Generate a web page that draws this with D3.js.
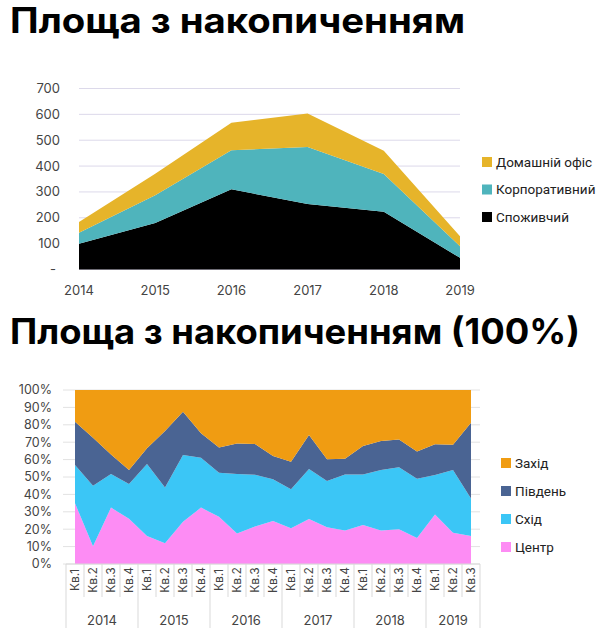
<!DOCTYPE html>
<html>
<head>
<meta charset="utf-8">
<script src="https://cdn.jsdelivr.net/npm/d3@7"></script>
<style>
  html, body { margin: 0; padding: 0; background: #fff; }
  svg { display: block; }
  .title { font-family: Inter, "Noto Sans", sans-serif; font-weight: 700; fill: #000; }
  .tick-label { font-family: Inter, "Open Sans", sans-serif; fill: #444; }
  .legend-label { font-family: Roboto, "Liberation Sans", sans-serif; font-size: 13.5px; fill: #222; }
</style>
</head>
<body>
<svg id="chart" width="601" height="633"></svg>
<script>
// top chart: yearly stacked areas
const years = ['2014', '2015', '2016', '2017', '2018', '2019'];
const consumer = [100, 180, 310, 253, 223, 45];
const corporate = [42, 107, 151, 221, 146, 45];
const homeOffice = [42, 83, 107, 129, 90, 39];
const topTicks = [0, 100, 200, 300, 400, 500, 600, 700];
const topSeries = ['Споживчий', 'Корпоративний', 'Домашній офіс'];

// bottom chart: quarterly shares by region
const periods = [
  '2014 Кв.1', '2014 Кв.2', '2014 Кв.3', '2014 Кв.4',
  '2015 Кв.1', '2015 Кв.2', '2015 Кв.3', '2015 Кв.4',
  '2016 Кв.1', '2016 Кв.2', '2016 Кв.3', '2016 Кв.4',
  '2017 Кв.1', '2017 Кв.2', '2017 Кв.3', '2017 Кв.4',
  '2018 Кв.1', '2018 Кв.2', '2018 Кв.3', '2018 Кв.4',
  '2019 Кв.1', '2019 Кв.2', '2019 Кв.3',
];
const centre = [34.9, 10.2, 32.4, 26.0, 16.1, 11.9, 24.3, 32.4, 27.2, 17.6, 21.5, 24.7,
  20.5, 25.9, 21.1, 19.2, 22.4, 19.2, 19.9, 14.9, 28.5, 18.0, 16.1];
const east = [22.0, 34.8, 19.3, 20.0, 41.4, 32.0, 38.3, 28.7, 25.3, 34.1, 29.8, 24.0,
  22.4, 28.7, 26.6, 32.3, 29.1, 34.8, 35.7, 34.1, 22.6, 36.0, 21.6];
const south = [24.9, 27.5, 11.3, 8.0, 9.0, 32.6, 24.9, 14.0, 14.5, 17.6, 17.7, 13.3,
  15.9, 19.5, 12.5, 9.0, 16.3, 16.7, 16.0, 15.6, 17.7, 14.6, 43.5];
const west = [18.2, 27.5, 37.0, 46.0, 33.5, 23.5, 12.5, 24.9, 33.0, 30.7, 31.0, 38.0,
  41.2, 25.9, 39.8, 39.5, 32.2, 29.3, 28.4, 35.4, 31.2, 31.4, 18.8];
const bottomTicks = [0, 0.1, 0.2, 0.3, 0.4, 0.5, 0.6, 0.7, 0.8, 0.9, 1];
const bottomSeries = ['Центр', 'Схід', 'Південь', 'Захід'];

const svg = d3.select('#chart');

// titles
svg.append('text').attr('class', 'title')
    .attr('x', 10).attr('y', 33).attr('font-size', 35)
    .attr('textLength', 455).attr('lengthAdjust', 'spacingAndGlyphs')
    .text('Площа з накопиченням');
svg.append('text').attr('class', 'title')
    .attr('x', 10).attr('y', 344).attr('font-size', 35)
    .attr('textLength', 570).attr('lengthAdjust', 'spacingAndGlyphs')
    .text('Площа з накопиченням (100%)');

function drawLegend(names, colors, x, y0, step) {
    names.forEach((name, i) => {
        const g = svg.append('g').attr('transform', `translate(${x},${y0 + i * step})`);
        g.append('rect').attr('x', 0).attr('y', -5).attr('width', 10).attr('height', 10)
            .attr('fill', colors(name));
        g.append('text').attr('class', 'legend-label')
            .attr('x', 14).attr('y', 0).attr('dy', '0.35em').text(name);
    });
}

// ---- top chart ----
const topColors = d3.scaleOrdinal().domain(topSeries).range(['#000000', '#4fb4bc', '#e6b42a']);
const topRows = years.map((year, i) => ({
    year,
    'Споживчий': consumer[i],
    'Корпоративний': corporate[i],
    'Домашній офіс': homeOffice[i],
}));
const xTop = d3.scalePoint().domain(years).range([79, 460]);
const yTop = d3.scaleLinear().domain([0, 700]).range([269.5, 88.5]);

const topG = svg.append('g');
topG.selectAll('line.grid').data(topTicks).join('line')
    .attr('x1', 79).attr('x2', 460)
    .attr('y1', (d) => yTop(d)).attr('y2', (d) => yTop(d))
    .attr('stroke', '#dcd9ea').attr('stroke-width', 1);

const topStack = d3.stack().keys(topSeries)(topRows);
const topArea = d3.area()
    .x((d) => xTop(d.data.year))
    .y0((d) => yTop(d[0]))
    .y1((d) => yTop(d[1]));
topG.selectAll('path.layer').data(topStack).join('path')
    .attr('d', topArea)
    .attr('fill', (d) => topColors(d.key));

topG.selectAll('text.ylab').data(topTicks).join('text')
    .attr('class', 'tick-label').attr('font-size', 13)
    .attr('x', (d) => (d === 0 ? 56 : 60)).attr('y', (d) => yTop(d)).attr('dy', '0.35em')
    .attr('text-anchor', 'end')
    .text((d) => (d === 0 ? '-' : d));
topG.selectAll('text.xlab').data(years).join('text')
    .attr('class', 'tick-label').attr('font-size', 13)
    .attr('x', (d) => xTop(d)).attr('y', 295)
    .attr('text-anchor', 'middle')
    .text((d) => d);

drawLegend(topSeries.slice().reverse(), topColors, 482, 162, 27.5);

// ---- bottom chart ----
const bottomColors = d3.scaleOrdinal().domain(bottomSeries)
    .range(['#fd8cf4', '#3bc6f6', '#4a6493', '#f09c12']);
const bottomRows = periods.map((p, i) => ({
    period: p,
    'Центр': centre[i],
    'Схід': east[i],
    'Південь': south[i],
    'Захід': west[i],
}));
const xBand = d3.scaleBand().domain(periods).range([66, 480]).padding(0);
const xMid = (p) => xBand(p) + xBand.bandwidth() / 2;
const yBottom = d3.scaleLinear().domain([0, 1]).range([564, 390]);

const bottomG = svg.append('g');
bottomG.selectAll('line.grid').data(bottomTicks).join('line')
    .attr('x1', 63).attr('x2', 480)
    .attr('y1', (d) => yBottom(d)).attr('y2', (d) => yBottom(d))
    .attr('stroke', '#e2e2e2').attr('stroke-width', 1);

const bottomStack = d3.stack().keys(bottomSeries).offset(d3.stackOffsetExpand)(bottomRows);
const bottomArea = d3.area()
    .x((d) => xMid(d.data.period))
    .y0((d) => yBottom(d[0]))
    .y1((d) => yBottom(d[1]));
bottomG.selectAll('path.layer').data(bottomStack).join('path')
    .attr('d', bottomArea)
    .attr('fill', (d) => bottomColors(d.key));

bottomG.selectAll('text.ylab').data(bottomTicks).join('text')
    .attr('class', 'tick-label').attr('font-size', 12.5)
    .attr('x', 52).attr('y', (d) => yBottom(d)).attr('dy', '0.35em')
    .attr('text-anchor', 'end')
    .text(d3.format('.0%'));

// category axis: quarter separators, year separators
const boundaries = periods.map((p) => xBand(p)).concat([xBand.range()[1]]);
bottomG.selectAll('line.sep').data(boundaries).join('line')
    .attr('x1', (d) => d).attr('x2', (d) => d)
    .attr('y1', 564)
    .attr('y2', (d, i) => (i === 0 || i === periods.length || i % 4 === 0 ? 628 : 597))
    .attr('stroke', '#d9d9d9').attr('stroke-width', 1);
bottomG.append('line')
    .attr('x1', 66).attr('x2', 480).attr('y1', 564).attr('y2', 564)
    .attr('stroke', '#d9d9d9');

bottomG.selectAll('text.qlab').data(periods).join('text')
    .attr('class', 'tick-label').attr('font-size', 12)
    .attr('transform', (d) => `translate(${xMid(d)},580) rotate(-90)`)
    .attr('text-anchor', 'middle').attr('dy', '0.35em')
    .text((d) => d.split(' ')[1]);

const yearGroups = d3.groups(periods, (p) => p.split(' ')[0]);
bottomG.selectAll('text.yearlab').data(yearGroups).join('text')
    .attr('class', 'tick-label').attr('font-size', 13)
    .attr('x', ([, list]) => (xBand(list[0]) + xBand(list[list.length - 1]) + xBand.bandwidth()) / 2)
    .attr('y', 620).attr('dy', '0.35em')
    .attr('text-anchor', 'middle')
    .text(([year]) => year);

drawLegend(bottomSeries.slice().reverse(), bottomColors, 501, 463, 28);
</script>
</body>
</html>
